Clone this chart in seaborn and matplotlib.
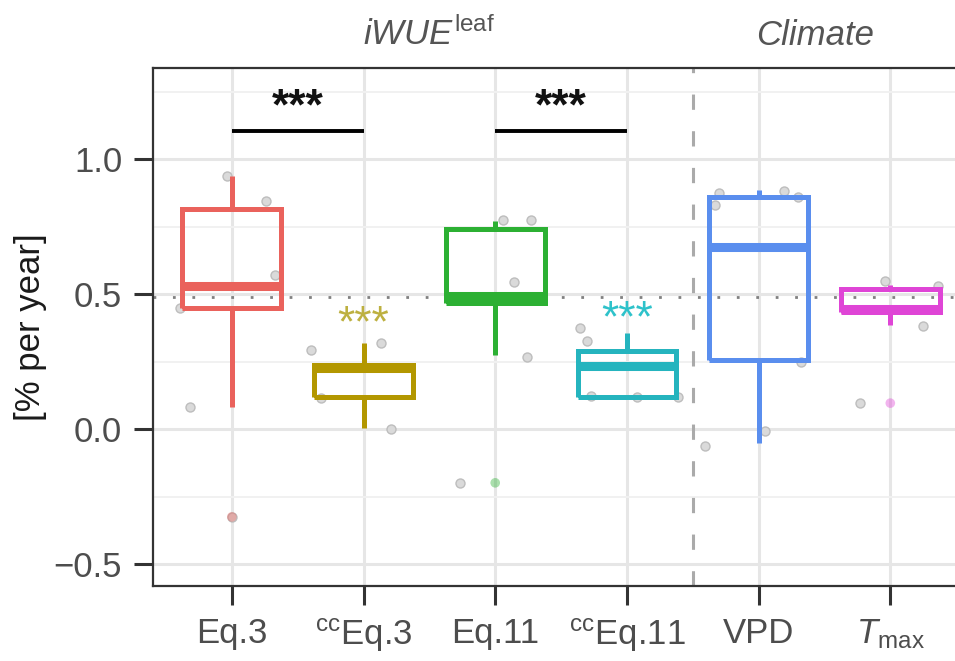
import numpy as np
import pandas as pd
import matplotlib
matplotlib.use('Agg')
import matplotlib.pyplot as plt
import seaborn as sns

# Categories, labels and colours
cats = ['Eq.3', 'ccEq.3', 'Eq.11', 'ccEq.11', 'VPD', 'Tmax']
tick_labels = ['Eq.3', r'${}^{\mathrm{cc}}$Eq.3', 'Eq.11',
               r'${}^{\mathrm{cc}}$Eq.11', 'VPD', r'$T_{\mathrm{max}}$']
colors = ['#EA625C', '#B39700', '#2CB033', '#25B4BE', '#5A8EEE', '#DF45D6']

# Box statistics [% per year]
whisk_lo = [0.082, 0.005, 0.274, 0.119, -0.050, 0.385]
q1 = [0.448, 0.119, 0.466, 0.119, 0.256, 0.433]
median = [0.529, 0.226, 0.492, 0.234, 0.673, 0.444]
q3 = [0.817, 0.238, 0.743, 0.289, 0.859, 0.521]
whisk_hi = [0.938, 0.318, 0.770, 0.355, 0.885, 0.533]

# Outliers (coloured points)
out_cat = ['Eq.3', 'Eq.11', 'Tmax']
out_val = [-0.324, -0.198, 0.097]

# Individual values (grey points) and their horizontal jitter
pt_cat = ['Eq.3'] * 6 + ['ccEq.3'] * 4 + ['Eq.11'] * 5 + ['ccEq.11'] * 5 + ['VPD'] * 7 + ['Tmax'] * 4
pt_val = [0.938, 0.846, 0.570, 0.448, 0.082, -0.324,
          0.293, 0.318, 0.116, 0.000,
          0.776, 0.776, 0.544, 0.267, -0.198,
          0.374, 0.326, 0.123, 0.119, 0.119,
          0.876, 0.883, 0.861, -0.006, -0.061, 0.830, 0.249,
          0.548, 0.381, 0.097, 0.529]
pt_jit = [-0.04, 0.26, 0.33, -0.39, -0.32, 0.00,
          -0.40, 0.13, -0.32, 0.21,
          0.06, 0.27, 0.14, 0.24, -0.27,
          -0.36, -0.30, -0.27, 0.08, 0.39,
          -0.30, 0.19, 0.30, 0.05, -0.41, -0.33, 0.32,
          -0.04, 0.25, -0.23, 0.36]

# Significance annotations
sig_pairs = [(0, 1), (2, 3)]
sig_y = 1.105
ref_line = 0.49

sns.set_theme(style='whitegrid')
plt.rcParams['font.family'] = ['Liberation Sans', 'DejaVu Sans']
plt.rcParams['mathtext.fontset'] = 'custom'
plt.rcParams['mathtext.rm'] = 'Liberation Sans'
plt.rcParams['mathtext.it'] = 'Liberation Sans:italic'
plt.rcParams['mathtext.bf'] = 'Liberation Sans:bold'
plt.rcParams['lines.solid_joinstyle'] = 'miter'
plt.rcParams['lines.solid_capstyle'] = 'butt'

# Long-form frame: five numbers per box so quartiles come out exactly
box_df = pd.DataFrame({
    'cat': np.repeat(cats, 5),
    'val': np.column_stack([whisk_lo, q1, median, q3, whisk_hi]).ravel(),
})
pts = pd.DataFrame({'cat': pt_cat, 'val': pt_val, 'jit': pt_jit})
pts['x'] = pts['cat'].map({c: i for i, c in enumerate(cats)}) + pts['jit']
outs = pd.DataFrame({'cat': out_cat, 'val': out_val})
outs['x'] = outs['cat'].map({c: i for i, c in enumerate(cats)})

fig = plt.figure(figsize=(9.55, 6.61), dpi=100)
ax = fig.add_axes([0.160, 0.113, 0.855, 0.784])

sns.scatterplot(data=pts, x='x', y='val', color='#DADADA', edgecolor='#BDBDBD',
                linewidth=1, s=42, ax=ax, zorder=1.5, legend=False)
sns.scatterplot(data=outs, x='x', y='val', hue='cat', palette=dict(zip(cats, colors)),
                alpha=0.4, edgecolor='none', s=48, ax=ax, zorder=1.6, legend=False)

ax.axhline(ref_line, color='#808080', lw=2, ls=(0, (1, 6)), zorder=1.2)
ax.axvline(3.5, color='#AAAAAA', lw=2.2, ls=(0, (5, 7)), zorder=1.2)

sns.boxplot(data=box_df, x='cat', y='val', hue='cat', order=cats, hue_order=cats,
            palette=colors, fill=False, whis=np.inf, width=0.75, linewidth=3.6,
            showcaps=False, medianprops=dict(linewidth=6.5), ax=ax, legend=False)

for a, b in sig_pairs:
    ax.plot([a, b], [sig_y, sig_y], color='black', lw=2.8, solid_capstyle='butt')
    ax.text((a + b) / 2, sig_y + 0.085, '***', ha='center', va='center',
            fontsize=32, fontweight='bold', color='#111111')
ax.text(1, 0.385, '***', ha='center', va='center', fontsize=32, color='#BDB040')
ax.text(3, 0.405, '***', ha='center', va='center', fontsize=32, color='#2EC2CA')

ax.set_xlim(-0.6, 5.6)
ax.set_ylim(-0.581, 1.337)
ax.set_xticks(range(len(cats)))
ax.set_xticklabels(tick_labels)
ax.set_yticks([-0.5, 0.0, 0.5, 1.0])
ax.set_yticklabels(['\u22120.5', '0.0', '0.5', '1.0'])
ax.set_yticks([-0.25, 0.25, 0.75, 1.25], minor=True)

ax.grid(False)
ax.grid(which='major', color='#E6E6E6', lw=2.2)
ax.grid(which='minor', axis='y', color='#F1F1F1', lw=1.4)
ax.set_axisbelow(True)

ax.tick_params(axis='both', which='major', length=14, width=2.2, color='#333333',
               labelsize=25, labelcolor='#4D4D4D', bottom=True, left=True)
ax.tick_params(axis='y', which='major', pad=8)
ax.tick_params(axis='x', which='major', pad=8)
ax.tick_params(axis='both', which='minor', length=0)
for s in ax.spines.values():
    s.set_color('#333333')
    s.set_linewidth(1.6)

ax.set_xlabel('')
ax.set_ylabel('[% per year]', fontsize=25, color='#1A1A1A')
ax.yaxis.set_label_coords(-0.130, 0.5)

ax.text(1.5, 1.044, r'$\mathit{iWUE}^{\mathrm{leaf}}$', transform=ax.get_xaxis_transform(),
        ha='center', va='baseline', fontsize=25, color='#555555')
ax.text(4.43, 1.044, 'Climate', transform=ax.get_xaxis_transform(),
        ha='center', va='baseline', fontsize=25, color='#555555', style='italic')

fig.savefig('out.png', dpi=100)
